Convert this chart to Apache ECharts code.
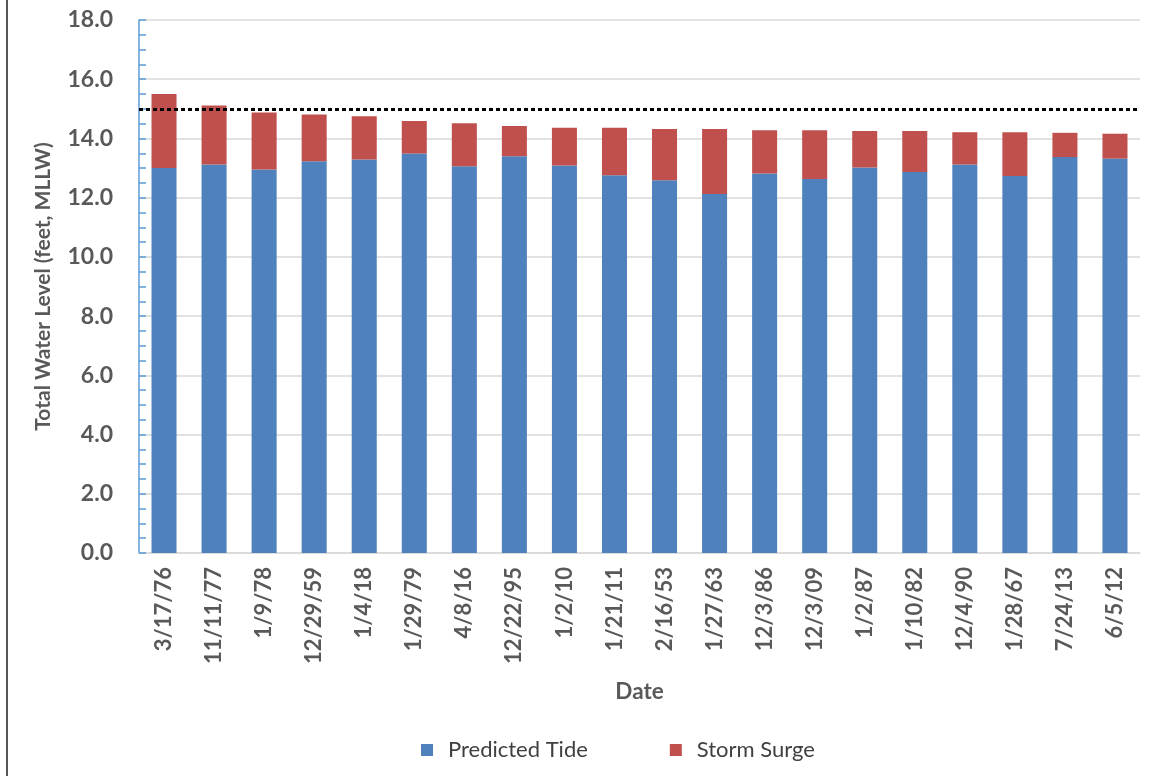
<!DOCTYPE html>
<html>
<head>
<meta charset="utf-8">
<script src="https://cdn.jsdelivr.net/npm/echarts@6/dist/echarts.min.js"></script>
<style>
html,body{margin:0;padding:0;background:#fff;}
#chart{width:1154px;height:776px;}
</style>
</head>
<body>
<div id="chart"></div>
<script>
const categories = ['3/17/76','11/11/77','1/9/78','12/29/59','1/4/18','1/29/79','4/8/16','12/22/95','1/2/10','1/21/11','2/16/53','1/27/63','12/3/86','12/3/09','1/2/87','1/10/82','12/4/90','1/28/67','7/24/13','6/5/12'];
const predictedTide = [13.00,13.12,12.95,13.23,13.29,13.49,13.06,13.40,13.09,12.76,12.59,12.12,12.82,12.63,13.02,12.87,13.12,12.73,13.37,13.32];
const stormSurge = [2.50,1.99,1.93,1.58,1.46,1.10,1.45,1.02,1.27,1.60,1.73,2.20,1.46,1.65,1.23,1.38,1.09,1.48,0.82,0.84];
const thresholdLevel = 15.0;
const yTicks = {min:0, max:18, interval:2};

const FONT = 'Lato';
const chart = echarts.init(document.getElementById('chart'), null, {renderer:'canvas'});
chart.setOption({
  backgroundColor:'#ffffff',
  animation:false,
  textStyle:{fontFamily:FONT},
  grid:{left:139, right:14, top:20, bottom:223, containLabel:false},
  legend:{
    left:416, top:734,
    itemWidth:12, itemHeight:12, itemGap:82,
    icon:'rect',
    textStyle:{fontFamily:FONT, fontSize:22, color:'#404040', padding:[0,0,0,10]},
    data:['Predicted Tide','Storm Surge']
  },
  xAxis:{
    type:'category',
    data:categories,
    name:'Date',
    nameLocation:'middle',
    nameGap:127,
    nameTextStyle:{fontFamily:FONT, fontSize:22.5, fontWeight:'bold', color:'#595959', verticalAlign:'top'},
    axisLine:{show:true, lineStyle:{color:'#d9d9d9', width:1.5}},
    axisTick:{show:false},
    axisLabel:{rotate:90, margin:14, fontFamily:FONT, fontSize:22, fontWeight:'bold', color:'#595959', interval:0}
  },
  yAxis:{
    type:'value',
    min:yTicks.min, max:yTicks.max, interval:yTicks.interval,
    name:'Total Water Level (feet, MLLW)',
    nameLocation:'middle',
    nameGap:85,
    nameTextStyle:{fontFamily:FONT, fontSize:21, fontWeight:'bold', color:'#595959'},
    axisLine:{show:true, lineStyle:{color:'#5b9bd5', width:1.5}},
    axisTick:{show:true, inside:true, length:7, lineStyle:{color:'#5b9bd5', width:1.5}},
    minorTick:{show:true, splitNumber:4, length:7, lineStyle:{color:'#5b9bd5', width:1.5}},
    axisLabel:{margin:26, fontFamily:FONT, fontSize:23, fontWeight:'bold', color:'#595959', formatter:v=>v.toFixed(1)},
    splitLine:{show:true, lineStyle:{color:'#d9d9d9', width:1.5}}
  },
  series:[
    {
      name:'Predicted Tide', type:'bar', stack:'total', barWidth:'50%',
      itemStyle:{color:'#4f81bd'},
      data:predictedTide,
      markLine:{
        silent:true, symbol:'none', label:{show:false},
        lineStyle:{color:'#000000', width:3, type:[4,3]},
        data:[{yAxis:thresholdLevel}]
      }
    },
    {
      name:'Storm Surge', type:'bar', stack:'total', barWidth:'50%',
      itemStyle:{color:'#c0504d'},
      data:stormSurge
    }
  ],
  graphic:[
    {type:'line', shape:{x1:7, y1:0, x2:7, y2:776}, style:{stroke:'#555555', lineWidth:2}}
  ]
});
</script>
</body>
</html>
